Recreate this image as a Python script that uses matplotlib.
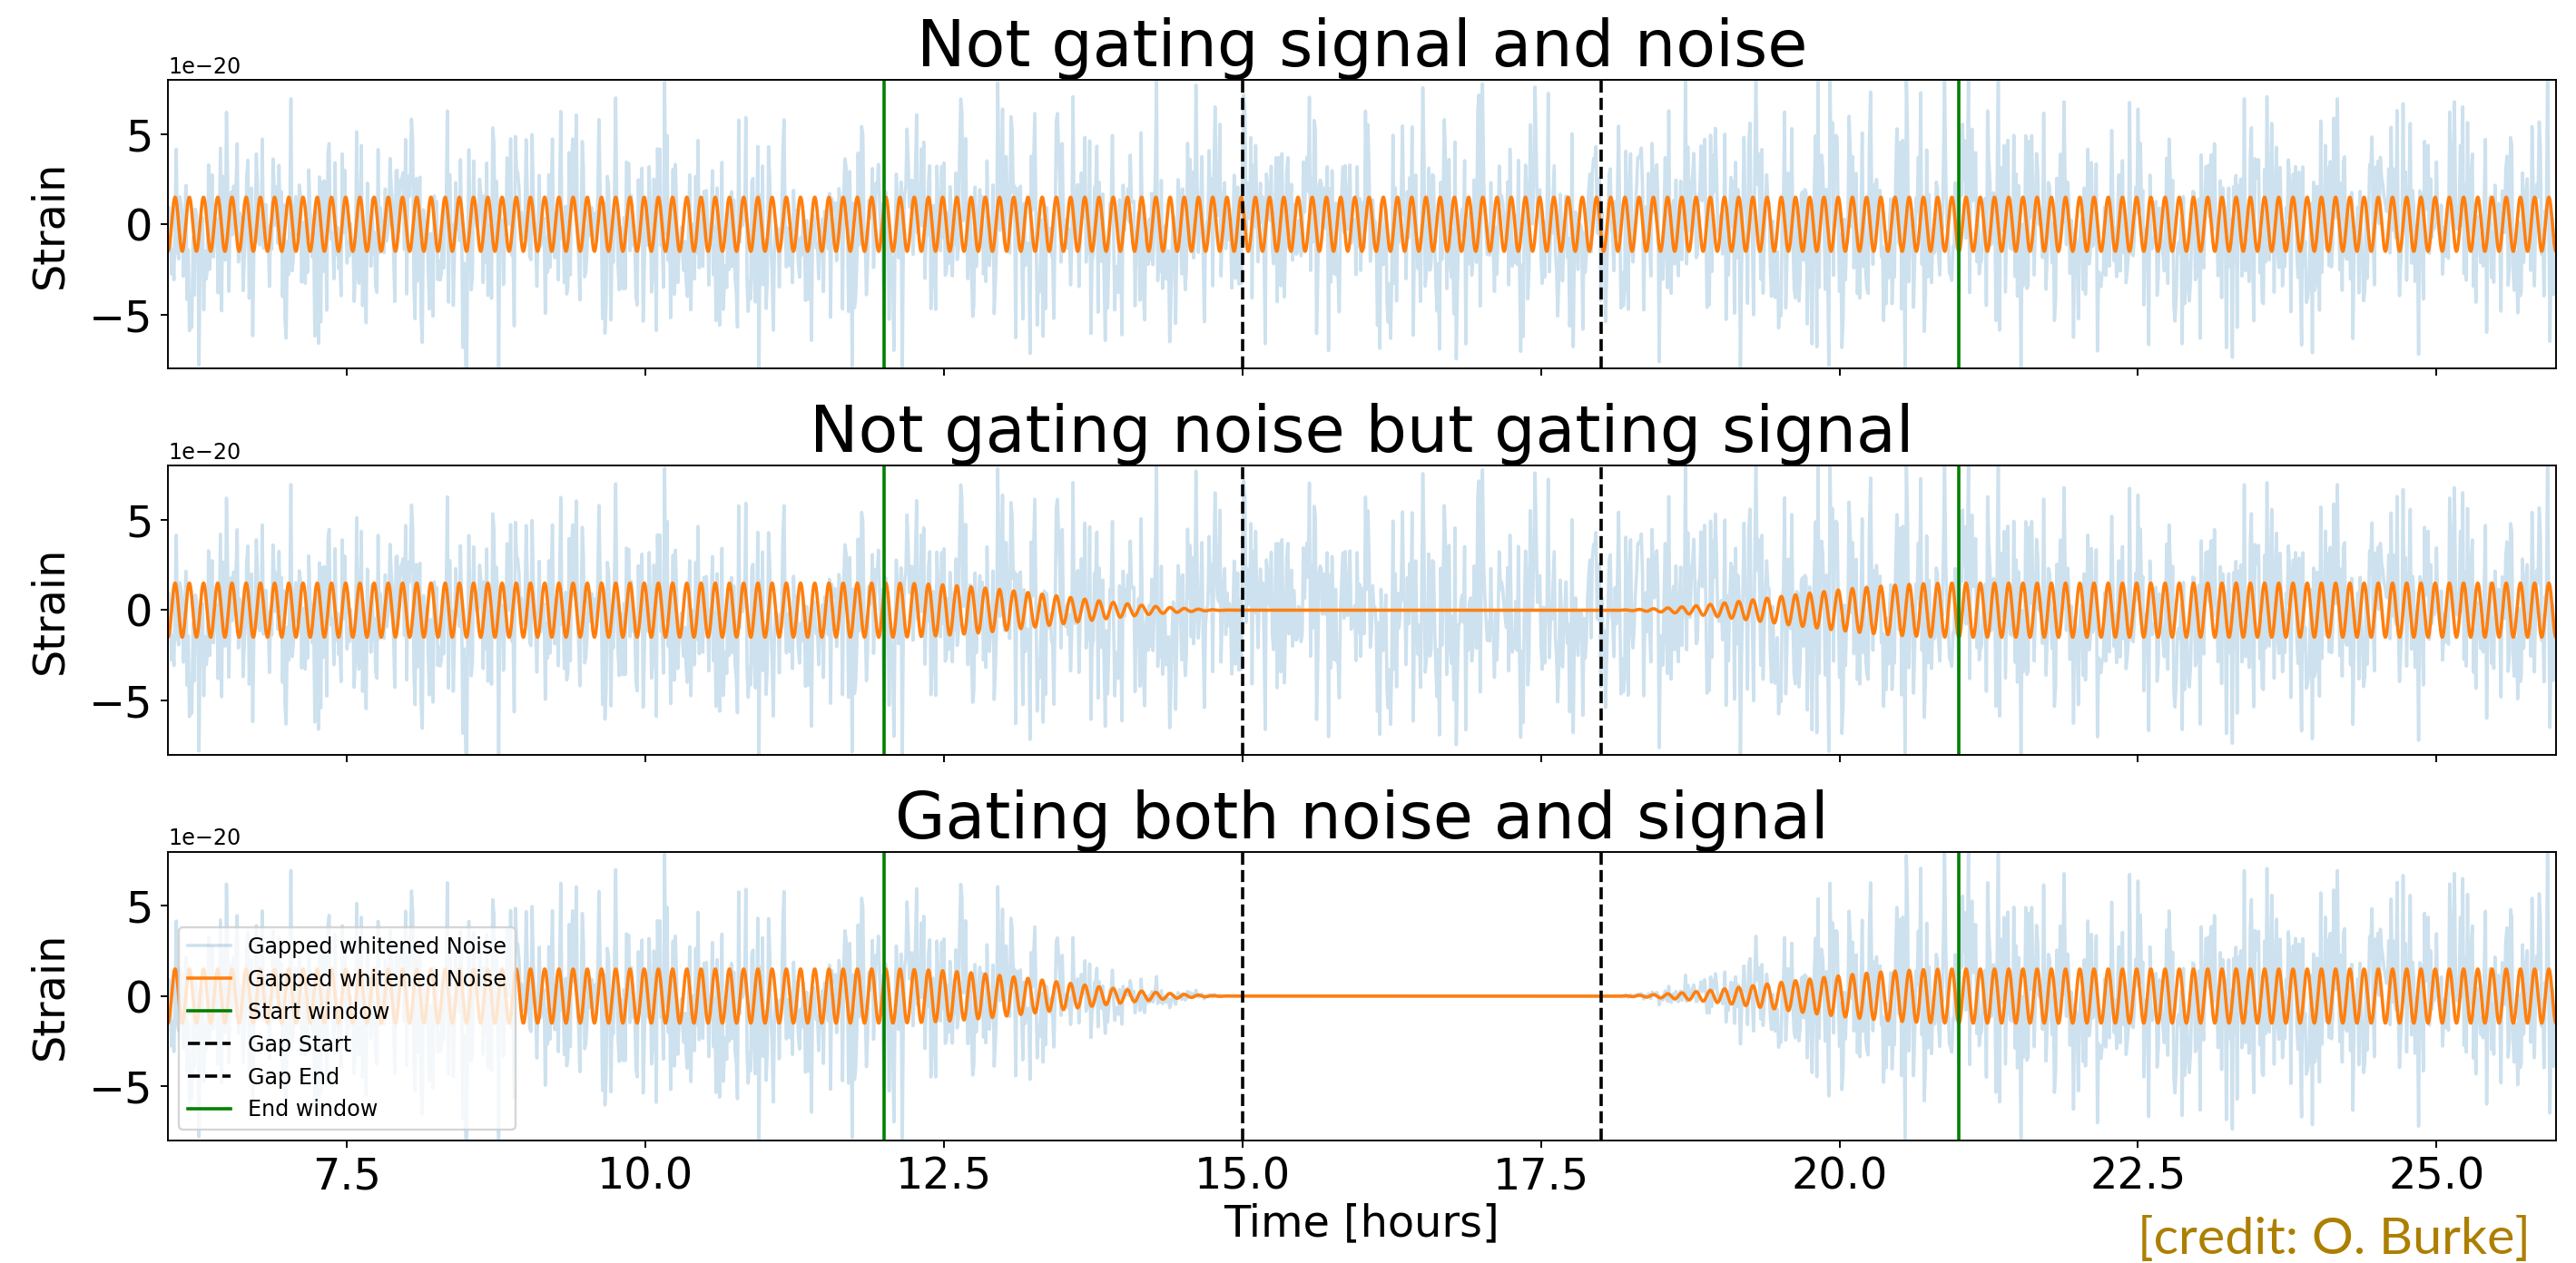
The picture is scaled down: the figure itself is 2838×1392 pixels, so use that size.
import numpy as np
import matplotlib.pyplot as plt

# panel titles
titles = ["Not gating signal and noise",
          "Not gating noise but gating signal",
          "Gating both noise and signal"]

# window and gap markers (hours)
start_window = 12.0
gap_start = 15.0
gap_end = 18.0
end_window = 21.0

# time range shown (hours)
t_min, t_max = 6.0, 26.0

# signal
signal_amp = 1.5e-20
signal_freq = 8.4       # cycles per hour
signal_crest = 6.06     # time of first crest

# whitened noise level (cannot be read point by point, so a fixed-seed draw)
noise_sigma = 3.1e-20
noise_step = 0.01       # hours between noise samples


def taper(t):
    # hann taper down into the gap and back up after it
    w = np.ones_like(t)
    down = (t > start_window) & (t < gap_start)
    w[down] = 0.5 * (1 + np.cos(np.pi * (t[down] - start_window) / (gap_start - start_window)))
    w[(t >= gap_start) & (t <= gap_end)] = 0.0
    up = (t > gap_end) & (t < end_window)
    w[up] = 0.5 * (1 - np.cos(np.pi * (t[up] - gap_end) / (end_window - gap_end)))
    return w


t_noise = np.arange(t_min, t_max + noise_step, noise_step)
noise = np.random.default_rng(7).normal(0, noise_sigma, t_noise.size)

t_sig = np.linspace(t_min, t_max, 20000)
signal = signal_amp * np.cos(2 * np.pi * signal_freq * (t_sig - signal_crest))

noise_sets = [noise, noise, noise * taper(t_noise)]
signal_sets = [signal, signal * taper(t_sig), signal * taper(t_sig)]

fig, axes = plt.subplots(3, 1, sharex=True, figsize=(2838 / 172, 1392 / 172))
plt.subplots_adjust(left=0.0652, right=0.9922, top=0.9368, bottom=0.097, hspace=0.336)

for ax, title, n, s in zip(axes, titles, noise_sets, signal_sets):
    ax.plot(t_noise, n, color='C0', alpha=0.22, lw=1.5, label='Gapped whitened Noise')
    ax.plot(t_sig, s, color='C1', lw=1.5, label='Gapped whitened Noise')
    ax.axvline(start_window, color='green', lw=1.5, label='Start window')
    ax.axvline(gap_start, color='k', ls='--', lw=1.5, label='Gap Start')
    ax.axvline(gap_end, color='k', ls='--', lw=1.5, label='Gap End')
    ax.axvline(end_window, color='green', lw=1.5, label='End window')
    ax.set_title(title, fontsize=30)
    ax.set_ylabel('Strain', fontsize=20, labelpad=8)
    ax.set_ylim(-8e-20, 8e-20)
    ax.tick_params(labelsize=20)
    ax.yaxis.get_offset_text().set_fontsize(10)

axes[-1].set_xlim(t_min, t_max)
axes[-1].set_xlabel('Time [hours]', fontsize=20, labelpad=2)
axes[-1].legend(loc='lower left', fontsize=10)

fig.text(2788 / 2838, 10 / 1392, '[credit: O. Burke]', ha='right', va='baseline',
         fontfamily='Lato', fontsize=24, color='#ad7f00')

fig.savefig('out.png', dpi=172)
